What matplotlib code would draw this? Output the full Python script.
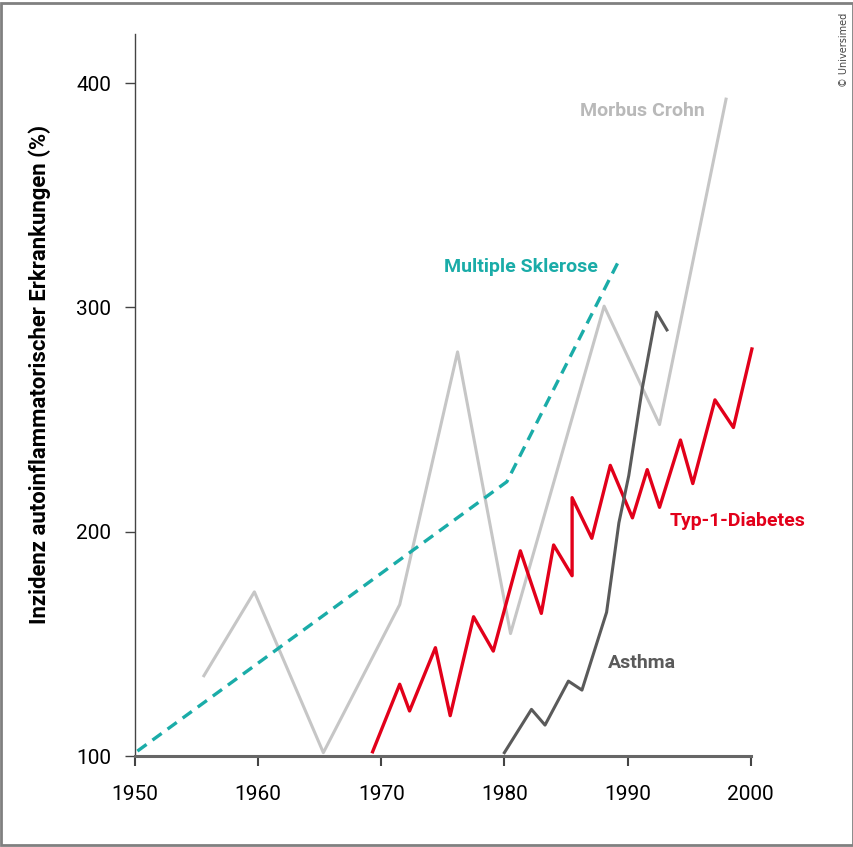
import matplotlib.pyplot as plt
from matplotlib.patches import Rectangle

# Werte (Jahr, Inzidenz %)
crohn_years = [1955.6, 1959.7, 1965.3, 1971.5, 1976.2, 1980.5, 1988.1, 1992.6, 1998.0]
crohn_vals = [135.8, 173.2, 101.5, 167.5, 280.2, 154.6, 300.6, 247.8, 392.9]

ms_years = [1950.2, 1980.2, 1989.4]
ms_vals = [102.2, 222.3, 322.0]

t1d_years = [1969.3, 1971.5, 1972.3, 1974.4, 1975.6, 1977.5, 1979.1, 1981.3, 1983.0, 1984.0,
             1985.5, 1985.5, 1987.1, 1988.6, 1990.4, 1991.6, 1992.6, 1994.3, 1995.3, 1997.1,
             1998.6, 2000.1]
t1d_vals = [101.9, 132.0, 120.1, 148.3, 118.0, 162.1, 146.8, 191.5, 163.6, 194.1,
            180.4, 215.2, 197.1, 229.6, 206.2, 227.7, 210.9, 240.9, 221.5, 258.8,
            246.5, 281.5]

asthma_years = [1980.0, 1982.2, 1983.3, 1985.2, 1986.3, 1988.3, 1989.3, 1990.1, 1991.2, 1992.35, 1993.2]
asthma_vals = [101.5, 120.8, 113.8, 133.4, 129.4, 164.1, 204.0, 225.0, 264.0, 297.9, 290.0]

xticks = [1950, 1960, 1970, 1980, 1990, 2000]
yticks = [100, 200, 300, 400]

RED = "#e2001a"
TEAL = "#1aaca8"
LIGHT = "#c6c6c6"
DARK = "#5a5a5a"

plt.rcParams["font.family"] = ["Roboto", "DejaVu Sans"]

fig = plt.figure(figsize=(8.54, 8.47), dpi=100)
ax = fig.add_axes([0.158, 0.1074, 0.721, 0.8526])

ax.plot(crohn_years, crohn_vals, color=LIGHT, lw=2.2, clip_on=False)
ax.plot(ms_years, ms_vals, color=TEAL, lw=2.4, linestyle=(0, (3.4, 2.2)), clip_on=False)
ax.plot(t1d_years, t1d_vals, color=RED, lw=2.4, clip_on=False)
ax.plot(asthma_years, asthma_vals, color=DARK, lw=2.2, clip_on=False)

ax.text(1996.3, 387.5, "Morbus Crohn", color="#b9b9b9", fontsize=14, fontweight="bold",
        ha="right", va="center")
ax.text(1987.6, 318.0, "Multiple Sklerose", color=TEAL, fontsize=14, fontweight="bold",
        ha="right", va="center")
ax.text(1993.4, 205.0, "Typ-1-Diabetes", color=RED, fontsize=14, fontweight="bold",
        ha="left", va="center")
ax.text(1988.4, 141.5, "Asthma", color=DARK, fontsize=14, fontweight="bold",
        ha="left", va="center")

ax.set_xlim(1950, 2000)
ax.set_ylim(100, 422)
ax.set_xticks(xticks)
ax.set_yticks(yticks)
ax.tick_params(axis="both", labelsize=15, length=7, color="#444444")
ax.tick_params(axis="x", width=1.5, pad=14)
ax.tick_params(axis="y", width=1.0, pad=10)

for s in ["top", "right"]:
    ax.spines[s].set_visible(False)
ax.spines["left"].set_color("#444444")
ax.spines["left"].set_linewidth(1.0)
ax.spines["bottom"].set_color("#666666")
ax.spines["bottom"].set_linewidth(2.2)

ax.set_ylabel("Inzidenz autoinflammatorischer Erkrankungen (%)", fontsize=15.9,
              fontweight="bold")
ax.yaxis.set_label_coords(-0.137, 0.528)

fig.text(0.988, 0.985, "© Universimed", rotation=90, fontsize=7, color="#444444",
         ha="center", va="top", family=["DejaVu Sans"])

fig.patches.append(Rectangle((0.001, 0.002), 0.998, 0.995, transform=fig.transFigure,
                             fill=False, edgecolor="#808080", linewidth=2.0))

fig.savefig("out.png", dpi=100)
